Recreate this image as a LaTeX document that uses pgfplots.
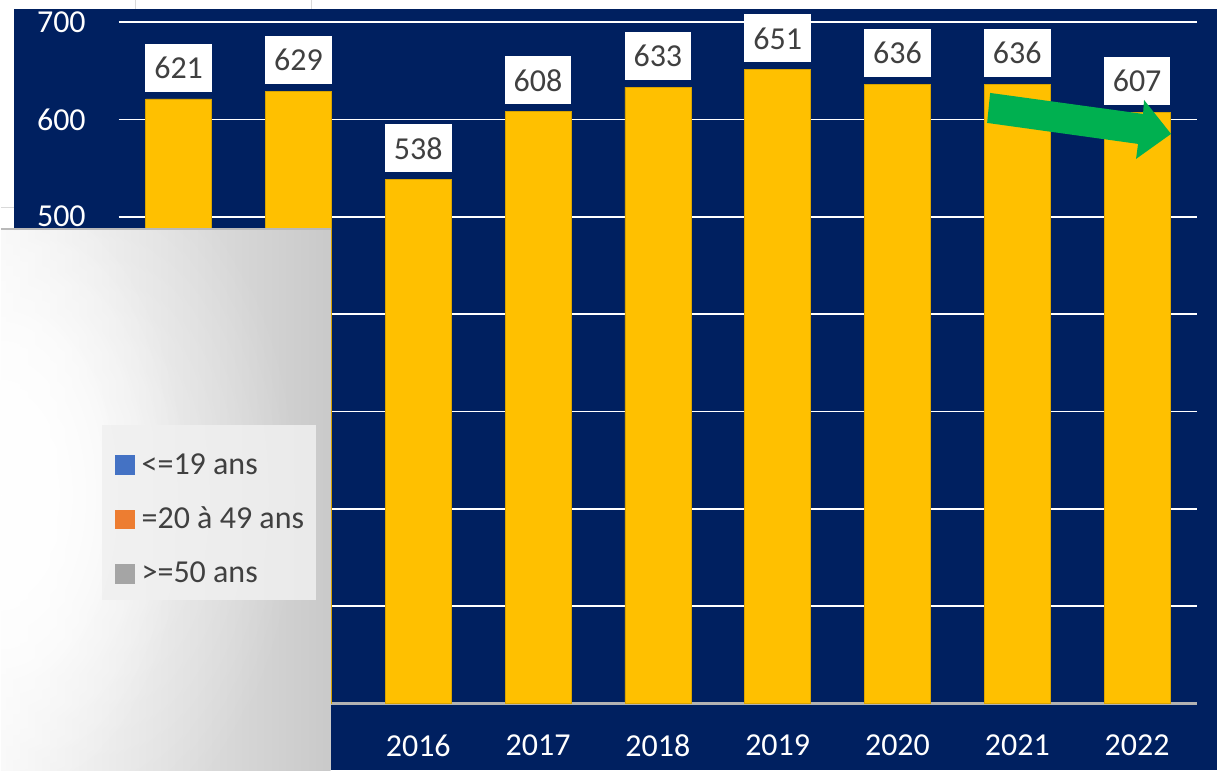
\documentclass[border=0pt]{standalone}
\usepackage{pgfplots}
\pgfplotsset{compat=1.18}
\usepackage{fontspec}
\setmainfont{Carlito}
\usetikzlibrary{fadings}
\definecolor{navy}{HTML}{002060}
\definecolor{barc}{HTML}{FFC000}
\definecolor{lbl}{HTML}{404040}
\definecolor{arrowg}{HTML}{00B050}
\definecolor{lb}{HTML}{4472C4}
\definecolor{lo}{HTML}{ED7D31}
\definecolor{lg}{HTML}{A5A5A5}
\tikzfading[name=glow, inner color=transparent!0, outer color=transparent!100]
\begin{document}
\begin{tikzpicture}
\begin{scope}[x=0.5pt,y=-0.5pt]
\useasboundingbox (0,0) rectangle (1217,771);
\fill[white] (0,0) rectangle (1217,771);
\draw[gray!30, line width=0.5pt] (135,0) -- (135,9) (311,0)--(311,9) (0,208)--(13,208);
\fill[navy] (13,9) rectangle (1217,771);
\end{scope}
\begin{axis}[
  at={(59pt,-352pt)}, anchor=south west,
  scale only axis, width=539.5pt, height=341pt,
  xmin=-0.5, xmax=8.5, ymin=0, ymax=700,
  clip=false,
  /pgf/number format/assume math mode=true,
  ybar, bar width=33pt,
  axis x line*=bottom, axis y line*=left,
  x axis line style={draw=gray!60, line width=1.2pt},
  y axis line style={draw=none},
  major tick length=0pt,
  ymajorgrids, grid style={white, line width=0.8pt},
  ytick={0,100,...,700},
  yticklabel style={text=white, font=\fontsize{16}{19}\selectfont, xshift=-13pt},
  xtick={0,...,8},
  xticklabels={,,2016,2017,2018,2019,2020,2021,2022},
  xticklabel style={text=white, font=\fontsize{16}{19}\selectfont, yshift=-12pt},
  nodes near coords,
  every node near coord/.append style={fill=white, text=lbl, font=\fontsize{16}{19}\selectfont,
     inner xsep=4.5pt, minimum height=24pt, anchor=south, yshift=3.5pt},
]
\addplot[fill=barc, draw=barc!85!black, line width=0.3pt] coordinates {(0,621) (1,629) (2,538) (3,608) (4,633) (5,651) (6,636) (7,636) (8,607)};
\end{axis}
\begin{scope}[x=0.5pt,y=-0.5pt]
\fill[arrowg] (990,93) -- (1143,114) -- (1144,100) -- (1171,134) -- (1136,159) -- (1138,144) -- (987,123) -- cycle;
\begin{scope}
\clip (0,229) rectangle (330,771);
\shade[left color=gray!7, right color=gray!42] (0,229) rectangle (330,771);
\fill[white, path fading=glow, opacity=0.8] (0,495) ellipse (300 and 400);
\fill[white, path fading=glow] (0,495) ellipse (190 and 320);
\fill[white, path fading=glow] (0,495) ellipse (130 and 230);
\end{scope}
\draw[gray!55, line width=0.8pt] (0,229) -- (330,229);
\fill[gray!12, opacity=0.85] (101,425) rectangle (315,600);
\end{scope}
\begin{axis}[
  at={(59pt,-352pt)}, anchor=south west,
  scale only axis, width=539.5pt, height=341pt,
  xmin=-0.5, xmax=8.5, ymin=0, ymax=700,
  hide axis,
  legend image code/.code={\fill[#1, draw=none] (0pt,-4.9pt) rectangle (9.8pt,4.9pt);},
  legend cell align=left,
  legend style={at={(-0.0158,0.400)}, anchor=north west, fill=none, draw=none,
     font=\fontsize{16}{19}\selectfont, text=lbl, row sep=11pt,
     inner xsep=6.5pt, inner ysep=9pt,
     nodes={inner xsep=3.5pt}},
]
\addlegendimage{fill=lb}
\addlegendentry{<=19 ans}
\addlegendimage{fill=lo}
\addlegendentry{=20 à 49 ans}
\addlegendimage{fill=lg}
\addlegendentry{>=50 ans}
\end{axis}
\end{tikzpicture}
\end{document}
